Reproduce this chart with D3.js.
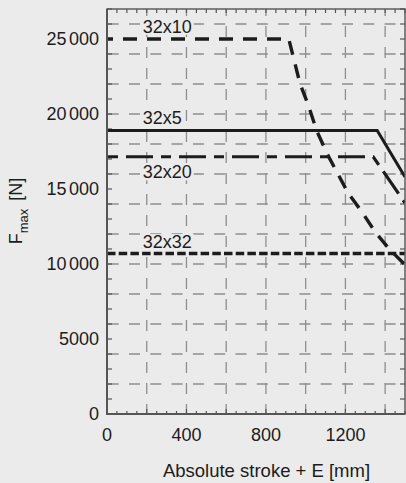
<!DOCTYPE html>
<html><head><meta charset="utf-8">
<script src="https://cdn.jsdelivr.net/npm/d3@7"></script>
<style>
html,body{margin:0;padding:0;background:#ebebeb;}
svg{display:block;font-family:"Liberation Sans",Arial,Helvetica,sans-serif;}
</style></head><body>
<svg id="c" width="406" height="483"></svg>
<script>
// ---- data ----
const seriesNames = ["32x10", "32x5", "32x20", "32x32"];
const s32x10 = [[0,25000],[915,25000],[971,22050],[1013,20600],[1055,18900],[1110,17300],[1215,14700],[1282,13500],[1349,12150],[1424,10950],[1500,9950]];
const s32x5  = [[0,18900],[1360,18900],[1500,15800]];
const s32x20 = [[0,17150],[1340,17150],[1500,14070]];
const s32x32 = [[0,10700],[1500,10700]];
const xTickLabels = [0, 400, 800, 1200];
const yTickLabels = [0, 5000, 10000, 15000, 20000, 25000];
const xGrid = [200, 400, 600, 800, 1000, 1200, 1400];
const yGrid = [2000,4000,6000,8000,10000,12000,14000,16000,18000,20000,22000,24000,26000];
const xTitle = "Absolute stroke + E [mm]";

// ---- layout ----
const L = 107, R = 405, T = 9, B = 414;
const x = d3.scaleLinear().domain([0, 1500]).range([L, R]);
const y = d3.scaleLinear().domain([0, 27000]).range([B, T]);
const svg = d3.select("#c");
const ink = "#1c1c1c", axisCol = "#555", gridCol = "#8e8e8e";

svg.append("rect").attr("width", 406).attr("height", 483).attr("fill", "#ebebeb");

// grid
svg.append("g").selectAll("line").data(yGrid).join("line")
  .attr("x1", L).attr("x2", R).attr("y1", d => y(d)).attr("y2", d => y(d))
  .attr("stroke", gridCol).attr("stroke-width", 1.3)
  .attr("stroke-dasharray", "11,10.3").attr("stroke-dashoffset", 20.6);
svg.append("g").selectAll("line").data(xGrid).join("line")
  .attr("x1", d => x(d)).attr("x2", d => x(d)).attr("y1", B).attr("y2", T)
  .attr("stroke", gridCol).attr("stroke-width", 1.3)
  .attr("stroke-dasharray", "11,10").attr("stroke-dashoffset", 1);

// ticks (inward)
const tk = svg.append("g").attr("stroke", axisCol).attr("stroke-width", 1.2);
d3.range(0, 27001, 1000).forEach(v => {
  tk.append("line").attr("x1", L).attr("x2", L + 5).attr("y1", y(v)).attr("y2", y(v));
  tk.append("line").attr("x1", R).attr("x2", R - 5).attr("y1", y(v)).attr("y2", y(v));
});
d3.range(0, 1501, 50).forEach(v => {
  const len = v % 200 === 0 ? 5 : 3;
  tk.append("line").attr("x1", x(v)).attr("x2", x(v)).attr("y1", B).attr("y2", B - len);
  tk.append("line").attr("x1", x(v)).attr("x2", x(v)).attr("y1", T).attr("y2", T + 4);
});

// series
const clip = svg.append("clipPath").attr("id", "pc").append("rect")
  .attr("x", L).attr("y", T).attr("width", R - L).attr("height", B - T);
const line = d3.line().x(d => x(d[0])).y(d => y(d[1]));
const lg = svg.append("g").attr("clip-path", "url(#pc)").attr("fill", "none").attr("stroke", ink);
lg.append("path").datum(s32x32).attr("d", line).attr("stroke-width", 3.6).attr("stroke-dasharray", "8.5,3.2");
lg.append("path").datum(s32x20).attr("d", line).attr("stroke-width", 3.2).attr("stroke-dasharray", "27,8,10,8").attr("stroke-dashoffset", 34);
lg.append("path").datum(s32x10).attr("d", line).attr("stroke-width", 3.4).attr("stroke-dasharray", "14,10").attr("stroke-dashoffset", 8);
lg.append("path").datum(s32x5).attr("d", line).attr("stroke-width", 3);

// frame
svg.append("rect").attr("x", L).attr("y", T).attr("width", R - L).attr("height", B - T)
  .attr("fill", "none").attr("stroke", axisCol).attr("stroke-width", 1.4);
svg.append("line").attr("x1", L).attr("x2", L).attr("y1", T).attr("y2", B + 1).attr("stroke", axisCol).attr("stroke-width", 2);
svg.append("line").attr("x1", L - 1).attr("x2", R).attr("y1", B).attr("y2", B).attr("stroke", axisCol).attr("stroke-width", 2);

// series labels
const labelInfo = [
  {name: seriesNames[0], v: s32x10[0][1], off: -6.3},
  {name: seriesNames[1], v: s32x5[0][1], off: -6.7},
  {name: seriesNames[2], v: s32x20[0][1], off: 21.6},
  {name: seriesNames[3], v: s32x32[0][1], off: -5.4}
];
labelInfo.forEach(d => {
  const g = svg.append("g");
  const t = g.append("text").attr("x", x(180)).attr("y", y(d.v) + d.off)
    .attr("font-size", 18).attr("fill", ink).text(d.name);
  const bb = t.node().getBBox();
  g.insert("rect", "text").attr("x", bb.x - 2).attr("y", bb.y + 2).attr("width", bb.width + 4).attr("height", bb.height - 4)
    .attr("fill", "#ebebeb");
});

// tick labels
const fmt = v => v >= 10000 ? [String(Math.floor(v / 1000)), String(v % 1000).padStart(3, "0")] : [String(v)];
yTickLabels.forEach(v => {
  const t = svg.append("text").attr("x", 99).attr("y", y(v) + 6.4).attr("text-anchor", "end")
    .attr("font-size", 18).attr("fill", ink);
  const parts = fmt(v);
  t.append("tspan").text(parts[0]);
  if (parts[1]) t.append("tspan").attr("dx", 2.5).text(parts[1]);
});
xTickLabels.forEach(v => {
  svg.append("text").attr("x", x(v)).attr("y", 440.5).attr("text-anchor", "middle")
    .attr("font-size", 18).attr("fill", ink).text(v);
});

// axis titles
svg.append("text").attr("x", 266.5).attr("y", 477).attr("text-anchor", "middle")
  .attr("font-size", 18.5).attr("fill", ink).text(xTitle);
const yt = svg.append("text").attr("transform", "translate(22,211) rotate(-90)")
  .attr("text-anchor", "middle").attr("font-size", 18).attr("fill", ink);
yt.append("tspan").text("F");
yt.append("tspan").attr("font-size", 13).attr("dy", 6).text("max");
yt.append("tspan").attr("dy", -6).attr("dx", 8).text("[N]");
</script>
</body></html>
